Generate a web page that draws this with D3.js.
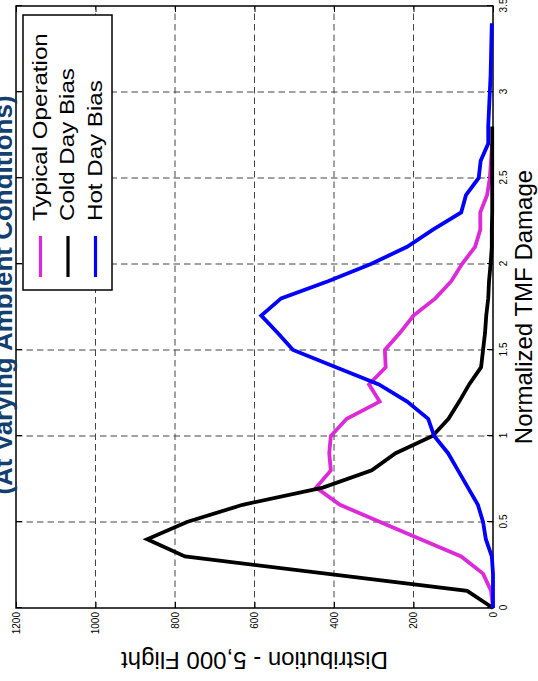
<!DOCTYPE html>
<html lang="en">
<head>
    <meta charset="UTF-8">
    <title>TMF Damage Distribution</title>
    <script src="https://d3js.org/d3.v7.min.js"></script>
    <style>
        body { margin: 0; background: #fff; }
        svg { display: block; font-family: "Liberation Sans", Arial, sans-serif; }
    </style>
</head>
<body>
<svg id="chart" width="538" height="681"></svg>

<script>
    // damage values (x) shared by all series
    const damage = [0, 0.1, 0.2, 0.3, 0.4, 0.5, 0.6, 0.7, 0.8, 0.9,
        1.0, 1.1, 1.2, 1.3, 1.4, 1.5, 1.6, 1.7, 1.8, 1.9,
        2.0, 2.1, 2.2, 2.3, 2.4, 2.5, 2.6, 2.7, 2.8, 2.9,
        3.0, 3.1, 3.2, 3.3, 3.4];

    const typical = [0, 5, 25, 80, 182, 284, 385, 445, 408, 412,
        408, 368, 285, 312, 270, 272, 234, 200, 145, 105,
        78, 45, 32, 32, 15, 8, 5, 2];
    const coldDay = [0, 65, 420, 775, 870, 770, 630, 428, 305, 245,
        152, 112, 85, 60, 30, 25, 20, 17, 12, 10,
        6, 3, 3, 2, 2, 2, 2, 2, 2];
    const hotDay = [0, 0, 0, 3, 18, 25, 38, 63, 88, 113,
        148, 163, 216, 287, 395, 503, 542, 583, 533, 415,
        307, 216, 151, 80, 68, 36, 31, 12, 12, 10,
        8, 6, 5, 4, 3];

    const seriesNames = ["Typical Operation", "Cold Day Bias", "Hot Day Bias"];
    const seriesColors = ["#dc2ad9", "#000000", "#0000ff"];

    const xTicks = [0, 0.5, 1, 1.5, 2, 2.5, 3, 3.5];
    const xTickLabels = ["0", "0.5", "1", "1.5", "2", "2.5", "3", "3.5"];
    const yTicks = [0, 200, 400, 600, 800, 1000, 1200];
    const yTickLabels = ["0", "200", "400", "600", "800", "1000", "1200"];

    const titleText = "(At Varying Ambient Conditions)";
    const xLabel = "Normalized TMF Damage";
    const yLabel = "Distribution - 5,000 Flight";

    // the figure is drawn upright in a 681 x 538 frame, then turned a quarter left
    const W = 681, H = 538;
    const plot = {left: 73, right: 675, top: 16, bottom: 493};

    let svg = d3.select("#chart");
    svg.append("rect").attr("width", 538).attr("height", 681).attr("fill", "#fff");

    let g = svg.append("g")
        .attr("transform", "translate(0," + W + ") rotate(-90)");

    const x = d3.scaleLinear().domain([0, 3.5]).range([plot.left, plot.right]);
    const y = d3.scaleLinear().domain([0, 1200]).range([plot.bottom, plot.top]);

    // grid
    let grid = g.append("g").attr("stroke", "#444").attr("stroke-width", 1)
        .attr("stroke-dasharray", "6.5,4");
    grid.selectAll(".gx").data(xTicks.slice(1, -1)).enter().append("line")
        .attr("x1", d => x(d)).attr("x2", d => x(d))
        .attr("y1", plot.top).attr("y2", plot.bottom);
    grid.selectAll(".gy").data(yTicks.slice(1, -1)).enter().append("line")
        .attr("x1", plot.left).attr("x2", plot.right)
        .attr("y1", d => y(d)).attr("y2", d => y(d));

    // axes, MATLAB style ticks pointing inward
    function styleAxis(sel) {
        sel.select(".domain").remove();
        sel.selectAll("text").attr("font-size", 10).attr("fill", "#000")
            .attr("font-family", "Liberation Sans, Arial, sans-serif");
        sel.selectAll("line").attr("stroke", "#000");
    }
    g.append("g").attr("transform", "translate(0," + plot.bottom + ")")
        .call(d3.axisBottom(x).tickValues(xTicks).tickSize(-6).tickSizeOuter(0)
            .tickPadding(7).tickFormat((d, i) => xTickLabels[i]))
        .call(styleAxis);
    g.append("g").attr("transform", "translate(0," + plot.top + ")")
        .call(d3.axisTop(x).tickValues(xTicks).tickSize(-6).tickSizeOuter(0).tickFormat(""))
        .call(styleAxis);
    g.append("g").attr("transform", "translate(" + plot.left + ",0)")
        .call(d3.axisLeft(y).tickValues(yTicks).tickSize(-6).tickSizeOuter(0)
            .tickPadding(4).tickFormat((d, i) => yTickLabels[i]))
        .call(styleAxis);
    g.append("g").attr("transform", "translate(" + plot.right + ",0)")
        .call(d3.axisRight(y).tickValues(yTicks).tickSize(-6).tickSizeOuter(0).tickFormat(""))
        .call(styleAxis);

    g.append("rect")
        .attr("x", plot.left).attr("y", plot.top)
        .attr("width", plot.right - plot.left).attr("height", plot.bottom - plot.top)
        .attr("fill", "none").attr("stroke", "#000").attr("stroke-width", 1.5);

    // curves
    const line = d3.line().x(d => x(d[0])).y(d => y(d[1]));
    const allSeries = [typical, coldDay, hotDay];
    g.append("g").selectAll("path")
        .data(allSeries)
        .enter()
        .append("path")
        .attr("d", vals => line(vals.map((v, i) => [damage[i], v])))
        .attr("fill", "none")
        .attr("stroke", (d, i) => seriesColors[i])
        .attr("stroke-width", 3.8);

    // labels
    g.append("text")
        .attr("x", (plot.left + plot.right) / 2).attr("y", 532)
        .attr("text-anchor", "middle").attr("font-size", 24)
        .text(xLabel);
    g.append("text")
        .attr("transform", "translate(29," + (plot.top + plot.bottom) / 2 + ") rotate(-90)")
        .attr("text-anchor", "middle").attr("font-size", 24)
        .text(yLabel);
    g.append("text")
        .attr("x", 386).attr("y", 12)
        .attr("text-anchor", "middle").attr("font-size", 26).attr("font-weight", "bold")
        .attr("fill", "#13406e")
        .text(titleText);

    // legend
    let legend = g.append("g");
    legend.append("rect")
        .attr("x", 391).attr("y", 23).attr("width", 275).attr("height", 89)
        .attr("fill", "#fff").attr("stroke", "#000").attr("stroke-width", 1.5);
    let items = legend.selectAll(".item").data(seriesNames).enter().append("g")
        .attr("transform", (d, i) => "translate(0," + (40.5 + i * 27.5) + ")");
    items.append("line")
        .attr("x1", 404).attr("x2", 445)
        .attr("stroke", (d, i) => seriesColors[i]).attr("stroke-width", 3.2);
    items.append("text")
        .attr("transform", "translate(460,6) scale(1.15,1)")
        .attr("font-size", 21)
        .text(d => d);
</script>
</body>
</html>
